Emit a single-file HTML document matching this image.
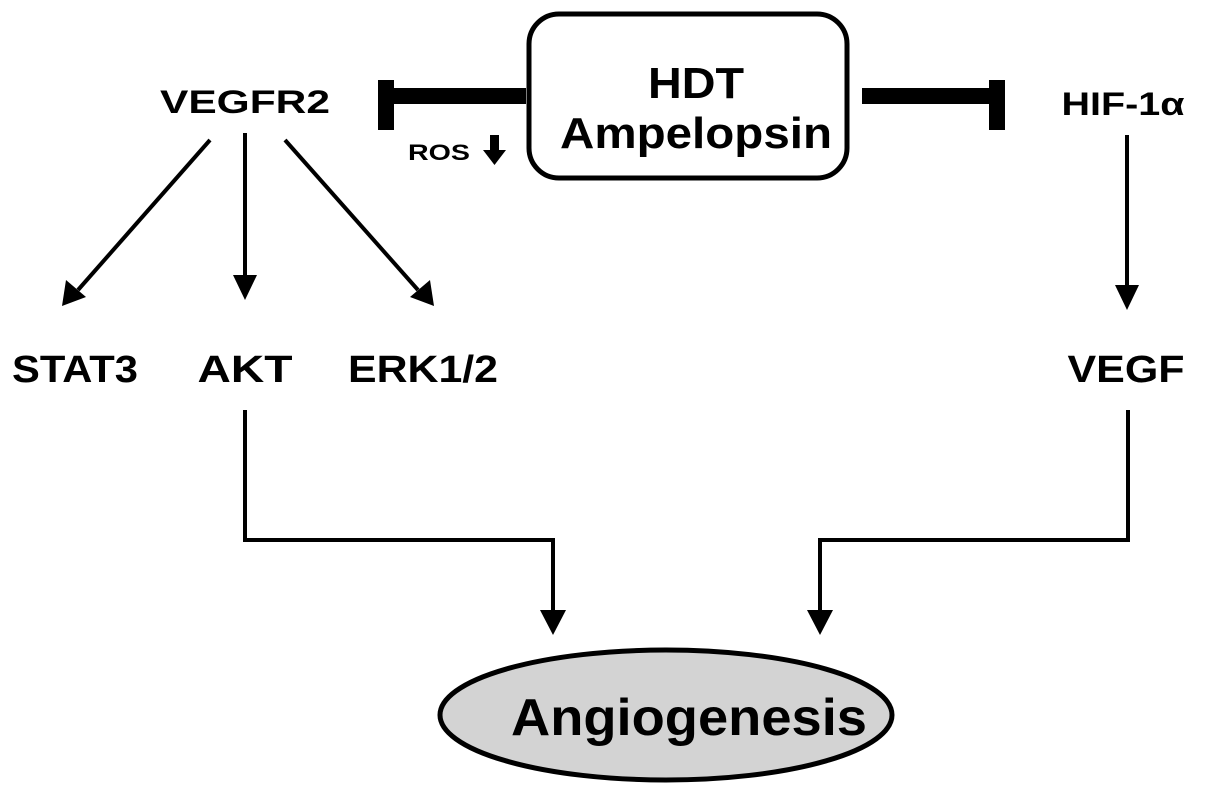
<!DOCTYPE html>
<html><head><style>
html,body{margin:0;padding:0;background:#fff;}
svg text{font-family:"Liberation Sans",Arial,sans-serif;font-weight:bold;fill:#000;}
</style></head><body>
<svg width="1205" height="798" viewBox="0 0 1205 798" xmlns="http://www.w3.org/2000/svg">
<!-- HDT box -->
<rect x="529" y="14" width="318" height="164" rx="30" fill="#fff" stroke="#000" stroke-width="5"/>
<text x="696" y="98" font-size="44" text-anchor="middle" textLength="96" lengthAdjust="spacingAndGlyphs">HDT</text>
<text x="696" y="148" font-size="44" text-anchor="middle" textLength="272" lengthAdjust="spacingAndGlyphs">Ampelopsin</text>
<!-- inhibition bars -->
<rect x="392" y="88" width="134" height="16"/>
<rect x="378" y="80" width="16" height="50"/>
<rect x="862" y="88" width="134" height="16"/>
<rect x="989" y="80" width="16" height="50"/>
<text x="408" y="160" font-size="22" textLength="62" lengthAdjust="spacingAndGlyphs">ROS</text>
<rect x="490" y="135" width="9" height="17"/>
<polygon points="483,150 506,150 494.5,165"/>
<!-- labels -->
<text x="245" y="113" font-size="32" text-anchor="middle" textLength="170" lengthAdjust="spacingAndGlyphs">VEGFR2</text>
<text x="1123" y="115" font-size="32" text-anchor="middle" textLength="123" lengthAdjust="spacingAndGlyphs">HIF-1α</text>
<text x="75" y="382" font-size="38" text-anchor="middle" textLength="126" lengthAdjust="spacingAndGlyphs">STAT3</text>
<text x="245" y="382" font-size="38" text-anchor="middle" textLength="95" lengthAdjust="spacingAndGlyphs">AKT</text>
<text x="423" y="382" font-size="38" text-anchor="middle" textLength="150" lengthAdjust="spacingAndGlyphs">ERK1/2</text>
<text x="1126" y="382" font-size="38" text-anchor="middle" textLength="117" lengthAdjust="spacingAndGlyphs">VEGF</text>
<g stroke="#000" stroke-width="4" fill="none">
<line x1="210" y1="140" x2="78" y2="290"/>
<line x1="245" y1="133" x2="245" y2="280"/>
<line x1="285" y1="140" x2="418" y2="290"/>
<line x1="1127" y1="135" x2="1127" y2="290"/>
<polyline points="245,410 245,540 553,540 553,612"/>
<polyline points="1128,410 1128,540 820,540 820,612"/>
</g>
<polygon points="62,306 66,280 86,297"/>
<polygon points="245,300 233,275 257,275"/>
<polygon points="434,306 410,297 430,280"/>
<polygon points="1127,310 1115,285 1139,285"/>
<polygon points="553,635 540,610 566,610"/>
<polygon points="820,635 807,610 833,610"/>
<!-- ellipse -->
<ellipse cx="666" cy="715" rx="226" ry="65" fill="#d3d3d3" stroke="#000" stroke-width="5"/>
<text x="689" y="735" font-size="52" text-anchor="middle" textLength="356" lengthAdjust="spacingAndGlyphs">Angiogenesis</text>
</svg>
</body></html>
